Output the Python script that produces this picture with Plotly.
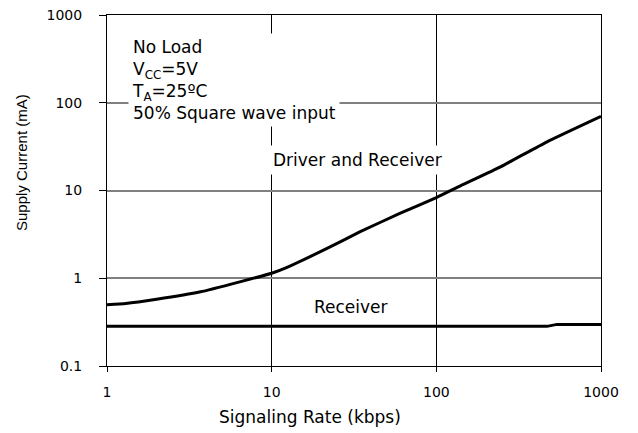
import plotly.graph_objects as go

# Data
rate_dr = [1, 1.3, 2, 3.7, 6.4, 10, 12.4, 21.7, 34.5, 60, 100, 140, 245, 470, 1000]
curr_dr = [0.50, 0.515, 0.575, 0.70, 0.91, 1.14, 1.33, 2.19, 3.39, 5.48, 8.3, 11.3, 18.6, 35.9, 70]
rate_rx = [1, 470, 540, 1000]
curr_rx = [0.283, 0.283, 0.298, 0.298]

x_ticks = [1, 10, 100, 1000]
x_ticktext = ["1", "10", "100", "1000"]
y_ticks = [0.1, 1, 10, 100, 1000]
y_ticktext = ["0.1", "1", "10", "100", "1000"]

FONT = "DejaVu Sans, Liberation Sans, Arial, sans-serif"

fig = go.Figure()
fig.add_trace(go.Scatter(x=rate_dr, y=curr_dr, mode="lines",
                         line=dict(color="black", width=3, shape="spline", smoothing=0.4),
                         showlegend=False, hoverinfo="skip"))
fig.add_trace(go.Scatter(x=rate_rx, y=curr_rx, mode="lines",
                         line=dict(color="black", width=3),
                         showlegend=False, hoverinfo="skip"))

fig.update_xaxes(type="log", range=[0, 3], tickvals=x_ticks, ticktext=x_ticktext,
                 showgrid=True, gridcolor="#000000", gridwidth=1,
                 showline=True, linecolor="black", linewidth=1, mirror=True,
                 ticks="outside", ticklen=5, tickcolor="black", tickwidth=1,
                 ticklabelstandoff=8, automargin=False, ticklabeloverflow="allow",
                 tickfont=dict(family=FONT, size=14, color="black"), zeroline=False)
fig.update_yaxes(type="log", range=[-1, 3], tickvals=y_ticks, ticktext=y_ticktext,
                 showgrid=True, gridcolor="#808080", gridwidth=2,
                 showline=True, linecolor="black", linewidth=1, mirror=True,
                 ticks="outside", ticklen=7, tickcolor="black", tickwidth=1,
                 ticklabelstandoff=14, automargin=False, ticklabeloverflow="allow",
                 tickfont=dict(family=FONT, size=14, color="black"), zeroline=False)

# page has an 8px body margin, so the figure is drawn 8px smaller
W, H = 630, 425
L, R, T, B = 99, 37, 7, 67
pw, ph = W - L - R, H - T - B

annotations = [
    dict(x=0.128, y=2.80, xref="x", yref="y", xanchor="left", yanchor="top",
         align="left", showarrow=False, bgcolor="white", borderpad=3,
         text="No Load<br>V<sub>CC</sub>=5V<br>T<sub>A</sub>=25ºC<br>50% Square wave input",
         font=dict(family=FONT, size=17, color="black")),
    dict(x=1.523, y=1.346, xref="x", yref="y", xanchor="center", yanchor="middle",
         showarrow=False, bgcolor="white", borderpad=4,
         text="Driver and Receiver", font=dict(family=FONT, size=17, color="black")),
    dict(x=1.484, y=-0.328, xref="x", yref="y", xanchor="center", yanchor="middle",
         showarrow=False, text="Receiver", font=dict(family=FONT, size=17, color="black")),
    dict(xref="paper", yref="paper", x=(302 - L) / pw, y=(H - B - 409) / ph,
         xanchor="center", yanchor="middle", showarrow=False,
         text="Signaling Rate (kbps)", font=dict(family=FONT, size=17, color="black")),
    dict(xref="paper", yref="paper", x=(13 - L) / pw, y=(H - B - 155) / ph,
         xanchor="center", yanchor="middle", showarrow=False, textangle=-90,
         text="Supply Current (mA)",
         font=dict(family="Liberation Sans, Arial, sans-serif", size=15, color="black")),
]

fig.update_layout(width=W, height=H, margin=dict(l=L, r=R, t=T, b=B, autoexpand=False),
                  plot_bgcolor="white", paper_bgcolor="white",
                  annotations=annotations)

fig.write_html("out.html")
